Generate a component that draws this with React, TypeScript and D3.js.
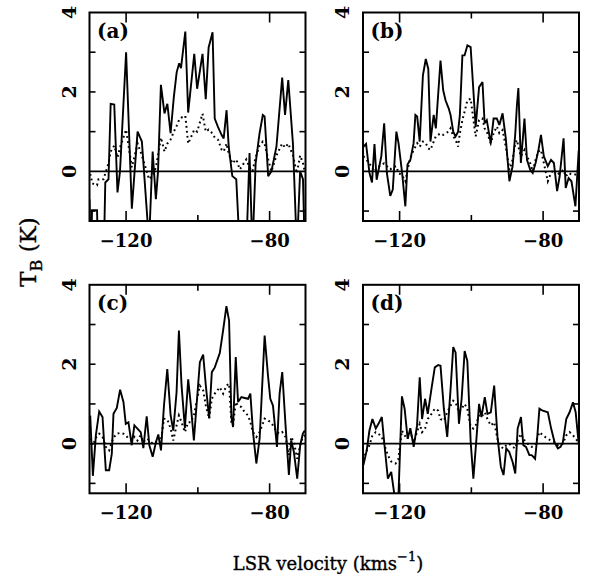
import React from 'react';
import * as d3 from 'd3';

// ---------- data (velocity in km/s, brightness temperature in K) ----------
const velocityA = [-130.2, -129.8, -129.5, -128.1, -127.7, -126.3, -125.8, -124.9, -124.3, -123.3, -122.4, -121.7, -120.0, -118.4, -116.8, -115.6, -113.6, -112.6, -111.7, -111.1, -110.3, -109.3, -108.5, -107.6, -106.7, -105.9, -105.2, -104.7, -103.5, -102.7, -101.0, -100.2, -98.7, -97.8, -97.0, -95.9, -95.3, -94.4, -93.4, -92.8, -92.0, -91.4, -90.4, -89.3, -88.3, -86.5, -85.6, -84.8, -83.9, -82.8, -81.9, -81.4, -80.4, -79.5, -78.1, -76.5, -75.7, -74.8, -73.5, -72.4, -71.5, -70.7, -70.2];
const solidA = [-0.7, -2.5, -0.98, -0.98, -2.5, -2.5, -0.28, -0.2, 1.7, 1.68, -0.53, 0.0, 3.0, -0.94, 1.0, 0.75, -1.8, 0.5, -0.7, 0.0, 2.18, 1.46, 1.7, 0.96, 1.87, 2.5, 2.72, 2.6, 3.52, 1.48, 2.96, 2.08, 2.96, 1.82, 3.12, 3.5, 1.33, 1.12, 0.92, 0.83, 1.54, 0.62, -0.12, -0.2, -2.0, -2.0, 0.46, -2.0, 0.2, 0.96, 1.42, 1.38, -0.12, 0.0, 0.62, 2.36, 1.42, 2.3, 0.7, -2.0, 0.0, -0.2, -2.0];
const dottedA = [-0.08, -0.1, -0.3, -0.35, -0.2, -0.2, -0.05, 0.2, 0.5, 0.65, 0.35, 0.6, 1.05, 0.1, 0.7, 0.4, -0.2, -0.1, 0.1, 0.4, 0.85, 0.5, 0.7, 0.8, 1.0, 1.15, 1.3, 1.35, 1.4, 0.7, 1.05, 1.0, 1.45, 1.0, 1.05, 0.95, 0.85, 0.8, 0.55, 0.5, 0.7, 0.45, 0.2, 0.3, 0.05, 0.3, 0.1, 0.0, 0.35, 0.65, 0.75, 0.7, 0.3, 0.0, 0.4, 0.7, 0.6, 0.7, 0.4, -0.05, 0.4, 0.2, 0.0];

const velocityB = [-130.1, -129.35, -128.4, -127.7, -127.0, -126.4, -125.1, -124.3, -123.55, -122.6, -121.9, -120.9, -120.3, -119.3, -118.4, -117.8, -117.0, -116.1, -115.6, -115.1, -114.4, -113.5, -112.7, -112.0, -111.4, -110.5, -109.9, -108.6, -107.85, -107.2, -106.3, -105.8, -105.05, -104.4, -103.7, -103.2, -102.5, -101.9, -101.1, -100.2, -98.8, -97.85, -96.9, -96.3, -95.7, -94.6, -93.8, -92.9, -92.2, -91.3, -90.4, -89.4, -88.5, -87.75, -87.3, -86.9, -86.2, -85.2, -84.5, -83.6, -82.9, -82.1, -81.3, -80.6, -79.8, -78.7, -77.8, -77.0, -76.1, -75.4, -74.3, -73.7, -72.9, -72.1, -71.0, -70.1, -69.5];
const solidB = [0.62, 0.69, -0.04, -0.28, 0.69, -0.21, 0.38, 1.21, -0.04, -0.62, -0.46, 1.0, 0.71, -0.04, -0.88, 0.17, 0.29, 0.71, 1.42, 1.38, 0.75, 2.42, 2.83, 2.58, 0.75, 1.42, 1.08, 2.79, 2.04, 1.79, 1.58, 1.42, 1.0, 0.88, 1.0, 1.42, 2.92, 2.92, 3.17, 3.13, 1.12, 2.12, 2.25, 1.21, 1.29, 0.71, 1.33, 1.33, 1.17, 1.46, 0.83, -0.25, 0.13, 0.96, 1.67, 2.1, 0.21, 1.33, 0.29, 0.04, -0.04, 0.21, 0.54, 0.92, 0.38, 0.13, 0.29, 0.21, -0.5, -0.13, 0.83, -0.42, -0.17, -0.25, -0.88, 0.5, 0.5];
const dottedB = [0.38, 0.3, 0.2, 0.1, 0.0, 0.08, 0.17, 0.2, 0.13, 0.05, 0.1, 0.13, -0.04, -0.1, -0.25, 0.04, 0.33, 0.54, 0.62, 0.71, 0.62, 0.75, 0.71, 0.58, 0.54, 0.75, 0.88, 0.96, 0.92, 0.96, 1.0, 1.08, 0.88, 0.8, 0.62, 0.96, 1.29, 1.5, 1.79, 1.83, 0.88, 1.29, 1.33, 1.08, 1.0, 0.71, 0.96, 1.13, 0.96, 1.04, 0.62, 0.04, 0.29, 0.71, 0.79, 0.62, 0.38, 0.54, 0.38, 0.21, 0.0, 0.29, 0.5, 0.54, 0.21, -0.25, -0.04, 0.04, -0.08, -0.04, 0.04, -0.13, -0.04, -0.08, -0.08, -0.04, -0.04];

const velocityC = [-130.0, -129.26, -128.43, -127.5, -126.57, -125.65, -124.72, -123.98, -123.52, -122.59, -121.67, -120.74, -120.09, -119.35, -118.43, -117.69, -116.85, -115.93, -115.19, -114.26, -113.52, -112.59, -111.67, -111.02, -110.28, -109.44, -108.52, -107.59, -106.85, -105.93, -105.28, -104.54, -103.61, -102.69, -101.94, -101.11, -100.37, -99.44, -98.52, -97.78, -96.85, -96.11, -95.28, -93.89, -92.96, -92.04, -91.3, -90.65, -90.19, -89.44, -88.8, -87.87, -86.94, -86.02, -85.37, -84.63, -83.7, -82.78, -81.39, -80.46, -79.81, -79.07, -77.96, -77.22, -76.48, -75.56, -74.63, -73.98, -73.24, -72.31, -71.48, -70.74, -70.19];
const solidC = [0.71, -0.81, 0.21, 0.81, 0.67, -0.67, -0.67, -0.25, 0.75, 0.9, 1.36, 1.05, 0.5, 0.54, -0.04, 0.46, 0.38, 0.29, -0.11, 0.69, -0.04, -0.33, 0.04, 0.23, -0.17, 0.96, 1.88, 0.71, 0.33, 1.3, 2.85, 1.46, 0.39, 1.62, 0.96, 0.08, 0.96, 2.05, 2.24, 1.46, 0.64, 1.8, 1.92, 2.28, 2.85, 3.46, 3.1, 0.67, 0.42, 2.18, 1.05, 1.17, 1.15, 1.13, 1.26, 0.29, -0.5, 0.13, 2.72, 1.72, 1.13, 0.96, -0.08, 1.26, 1.8, 0.46, -0.79, 0.08, -0.21, -0.88, -0.04, 0.25, 0.33];
const dottedC = [0.13, -0.04, 0.15, 0.25, 0.17, -0.08, -0.17, 0.04, 0.15, 0.25, 0.27, 0.25, 0.21, 0.13, 0.08, 0.17, 0.08, 0.21, 0.04, 0.13, 0.08, 0.0, 0.04, 0.13, 0.08, 0.63, 0.61, 0.38, 0.08, 0.46, 0.71, 0.54, 0.29, 0.54, 0.54, 0.71, 1.05, 1.46, 1.34, 0.96, 0.63, 1.13, 1.26, 1.42, 1.26, 1.46, 1.51, 0.54, 0.46, 1.05, 0.96, 0.92, 0.79, 0.71, 0.54, 0.29, 0.17, 0.29, 0.63, 0.59, 0.54, 0.46, 0.29, 0.25, 0.29, 0.17, -0.29, 0.17, 0.04, -0.38, -0.04, 0.17, 0.21];

const velocityD = [-130.09, -129.16, -128.41, -127.57, -126.64, -125.89, -124.95, -124.21, -123.27, -122.34, -121.12, -120.37, -119.35, -118.6, -117.76, -117.01, -116.07, -115.14, -114.39, -113.74, -112.9, -112.15, -111.12, -110.19, -109.25, -108.6, -107.66, -106.73, -105.79, -105.05, -104.39, -103.46, -102.71, -101.87, -101.12, -100.19, -99.44, -98.79, -97.85, -97.2, -96.26, -95.51, -94.58, -93.64, -92.71, -91.78, -91.03, -90.28, -89.44, -88.5, -87.76, -87.1, -86.17, -85.51, -84.77, -83.83, -83.18, -82.24, -81.68, -81.03, -80.09, -78.69, -77.76, -76.82, -75.89, -75.14, -74.49, -73.55, -72.62, -71.68, -70.93, -70.09, -69.53];
const solidD = [-0.54, -0.17, 0.33, 0.62, 0.38, 0.5, 0.67, -0.04, -0.88, -0.71, -1.5, -1.45, 1.19, 0.88, 0.12, 0.39, -0.08, 0.46, 1.67, 0.62, 1.13, 0.75, 1.38, 1.92, 1.98, 1.96, 0.88, 0.17, 1.38, 2.43, 2.29, 0.5, 1.13, 2.33, 2.08, 0.04, -0.88, -0.12, 1.0, 0.67, 1.17, 0.75, 0.79, 1.46, 0.17, -0.58, -0.79, -0.12, -0.21, -0.46, -0.75, 0.38, 0.67, -0.04, -0.08, -0.29, -0.29, -0.38, 0.12, 0.88, 0.83, 0.79, 0.38, 0.04, -0.12, -0.08, 0.04, 0.62, 0.79, 1.04, 0.79, 0.0, -0.29];
const dottedD = [-0.29, -0.17, -0.04, 0.21, 0.29, 0.25, 0.17, -0.04, -0.29, -0.45, -0.5, -0.4, 0.33, 0.21, 0.12, 0.29, 0.04, 0.29, 0.5, 0.29, 0.38, 0.62, 0.75, 0.88, 0.83, 0.62, 0.58, 0.79, 0.96, 1.08, 1.04, 0.79, 0.88, 1.0, 0.88, 0.42, 0.38, 0.46, 0.71, 0.67, 0.79, 0.62, 0.46, 0.54, 0.12, -0.08, -0.12, -0.04, 0.0, -0.08, -0.12, 0.08, 0.25, 0.12, 0.04, -0.04, -0.08, -0.04, 0.12, 0.29, 0.21, 0.12, 0.08, 0.04, -0.04, -0.04, 0.0, 0.21, 0.29, 0.21, 0.12, 0.04, -0.04];

const panelLabels = ['(a)', '(b)', '(c)', '(d)'];
const xLabelTicks = [-120, -80];
const xMinorTicks = [-100];
const yLabelTicks = [0, 2, 4];
const yOtherTicks = [-1, 1, 2, 3];
const xDomain = [-130.2, -70.0];
const yDomain = [-1.25, 4];

// ---------- layout ----------
const W = 595;
const H = 583;
const PW = 216;
const PH = 208.5;
const origins: [number, number][] = [
  [89.5, 12.5],
  [363, 12.5],
  [89.5, 284.8],
  [363, 284.8],
];
const FONT = 'DejaVu Serif';

type PanelProps = {
  idx: number;
  x0: number;
  y0: number;
  label: string;
  vel: number[];
  solid: number[];
  dotted: number[];
};

function Panel({ idx, x0, y0, label, vel, solid, dotted }: PanelProps) {
  const x = d3.scaleLinear().domain(xDomain).range([x0, x0 + PW]);
  const y = d3.scaleLinear().domain(yDomain).range([y0 + PH, y0]);
  const line = d3
    .line<number>()
    .x((_, i) => x(vel[i]))
    .y((d) => y(d));
  const clipId = `clip-${idx}`;
  const xb = y0 + PH;
  return (
    <g>
      <defs>
        <clipPath id={clipId}>
          <rect x={x0} y={y0} width={PW} height={PH} />
        </clipPath>
      </defs>
      <g clipPath={`url(#${clipId})`}>
        <line x1={x0} x2={x0 + PW} y1={y(0)} y2={y(0)} stroke="#000" strokeWidth={1.6} />
        <path d={line(dotted) || ''} fill="none" stroke="#000" strokeWidth={2} strokeDasharray="1.8 3.2" />
        <path d={line(solid) || ''} fill="none" stroke="#000" strokeWidth={1.9} strokeLinejoin="miter" strokeMiterlimit={3} />
      </g>
      {xLabelTicks.map((t) => (
        <g key={'xl' + t}>
          <line x1={x(t)} x2={x(t)} y1={xb} y2={xb - 10} stroke="#000" strokeWidth={1.6} />
          <line x1={x(t)} x2={x(t)} y1={y0} y2={y0 + 10} stroke="#000" strokeWidth={1.6} />
          <text x={x(t)} y={xb + 26} textAnchor="middle" fontFamily={FONT} fontWeight="bold" fontSize={18}>
            {'\u2212' + Math.abs(t)}
          </text>
        </g>
      ))}
      {xMinorTicks.map((t) => (
        <g key={'xm' + t}>
          <line x1={x(t)} x2={x(t)} y1={xb} y2={xb - 6} stroke="#000" strokeWidth={1.6} />
          <line x1={x(t)} x2={x(t)} y1={y0} y2={y0 + 6} stroke="#000" strokeWidth={1.6} />
        </g>
      ))}
      {yOtherTicks.map((t) => (
        <g key={'yt' + t}>
          <line x1={x0} x2={x0 + 6} y1={y(t)} y2={y(t)} stroke="#000" strokeWidth={1.6} />
          <line x1={x0 + PW} x2={x0 + PW - 6} y1={y(t)} y2={y(t)} stroke="#000" strokeWidth={1.6} />
        </g>
      ))}
      {yLabelTicks.map((t) => (
        <text
          key={'yl' + t}
          transform={`translate(${x0 - 14},${y(t)}) rotate(-90)`}
          textAnchor="middle"
          fontFamily={FONT}
          fontWeight="bold"
          fontSize={19}
        >
          {String(t)}
        </text>
      ))}
      <rect x={x0} y={y0} width={PW} height={PH} fill="none" stroke="#000" strokeWidth={2} />
      <text x={x0 + 7.5} y={y0 + 25} fontFamily={FONT} fontWeight="bold" fontSize={20}>
        {label}
      </text>
    </g>
  );
}

export default function App() {
  const vels = [velocityA, velocityB, velocityC, velocityD];
  const solids = [solidA, solidB, solidC, solidD];
  const dotteds = [dottedA, dottedB, dottedC, dottedD];
  return (
    <div style={{ position: 'absolute', left: 0, top: 0 }}>
      <svg width={W} height={H} viewBox={`0 0 ${W} ${H}`} style={{ display: 'block', background: '#fff' }}>
        <rect x={0} y={0} width={W} height={H} fill="#fff" />
        {origins.map(([x0, y0], i) => (
          <Panel
            key={i}
            idx={i}
            x0={x0}
            y0={y0}
            label={panelLabels[i]}
            vel={vels[i]}
            solid={solids[i]}
            dotted={dotteds[i]}
          />
        ))}
        <text
          transform="translate(36,252) rotate(-90)"
          textAnchor="middle"
          fontFamily={FONT}
          fontSize={23}
          stroke="#000"
          strokeWidth={0.35}
        >
          T
          <tspan dy={6} fontSize={16}>B</tspan>
          <tspan dy={-6}>{' (K)'}</tspan>
        </text>
        <text x={328} y={570} textAnchor="middle" fontFamily={FONT} fontSize={18} stroke="#000" strokeWidth={0.35}>
          LSR velocity (kms
          <tspan dy={-9} fontSize={13}>{'\u22121'}</tspan>
          <tspan dy={9}>)</tspan>
        </text>
      </svg>
    </div>
  );
}
